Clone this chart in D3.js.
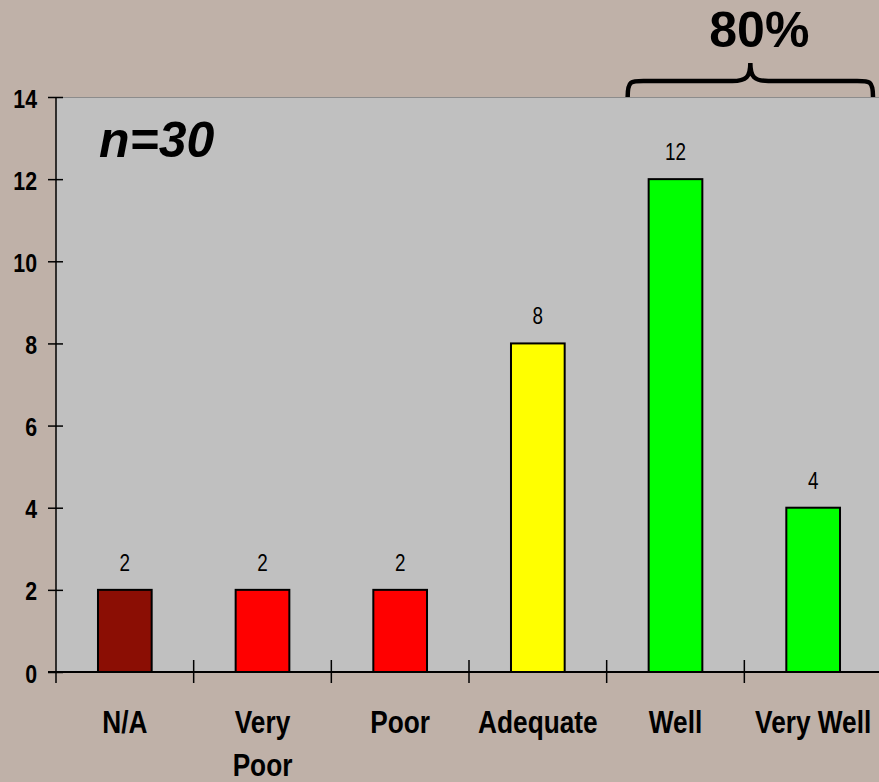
<!DOCTYPE html>
<html>
<head>
<meta charset="utf-8">
<script src="https://cdn.jsdelivr.net/npm/d3@7"></script>
<style>
  html, body { margin: 0; padding: 0; background: #bfb1a8; }
  svg { display: block; }
</style>
</head>
<body>
<script>
// Survey responses
const categories = ["N/A", "Very Poor", "Poor", "Adequate", "Well", "Very Well"];
const counts = [2, 2, 2, 8, 12, 4];
const barColors = ["#8b0e04", "#ff0000", "#ff0000", "#ffff00", "#00ff00", "#00ff00"];
const yTicks = [0, 2, 4, 6, 8, 10, 12, 14];
const sampleLabel = "n=30";
const groupLabel = "80%";
const groupCats = ["Well", "Very Well"];

const W = 879, H = 782;
const FONT = "'Liberation Sans', Arial, sans-serif";
const NARROW = 0.82; // horizontal squeeze for the condensed axis lettering

const svg = d3.select("body").append("svg").attr("width", W).attr("height", H)
  .attr("font-family", FONT);

const plotL = 56, plotR = 882, plotT = 97, plotB = 672;

const x = d3.scaleBand().domain(categories).range([plotL, plotR])
  .paddingInner(0.61).paddingOuter(0.305);
const step = x.step();
const y = d3.scaleLinear().domain([0, 14]).range([plotB, plotT]);
const cx = d => x(d) + x.bandwidth() / 2;

// plot area
svg.append("rect").attr("x", plotL).attr("y", plotT).attr("width", W - plotL).attr("height", plotB - plotT)
  .attr("fill", "#c0c0c0");
svg.append("line").attr("x1", plotL).attr("x2", W).attr("y1", plotT + 0.5).attr("y2", plotT + 0.5)
  .attr("stroke", "#8c8c8c").attr("stroke-width", 1);

// bars
svg.selectAll("rect.bar").data(categories).join("rect").attr("class", "bar")
  .attr("x", d => x(d)).attr("width", x.bandwidth())
  .attr("y", (d, i) => y(counts[i])).attr("height", (d, i) => y(0) - y(counts[i]))
  .attr("fill", (d, i) => barColors[i]).attr("stroke", "#000").attr("stroke-width", 2);

// value labels
svg.selectAll("text.val").data(categories).join("text").attr("class", "val")
  .attr("transform", (d, i) => `translate(${cx(d)},${y(counts[i]) - 19}) scale(${NARROW},1)`)
  .attr("text-anchor", "middle").attr("font-size", 23).attr("fill", "#000")
  .text((d, i) => counts[i]);

// y axis
const yAxis = d3.axisLeft(y).tickValues(yTicks).tickSizeOuter(0).tickSizeInner(8);
const gy = svg.append("g").attr("transform", `translate(${plotL},0)`).call(yAxis)
  .attr("font-family", FONT);
gy.select(".domain").remove();
gy.selectAll(".tick line").attr("x2", -8).attr("x1", 7).attr("stroke", "#000").attr("stroke-width", 1.5);
gy.selectAll(".tick text")
  .attr("x", null).attr("dy", null)
  .attr("transform", `translate(-19,10) scale(${NARROW},1)`)
  .attr("font-size", 26).attr("font-weight", "bold").attr("fill", "#000");
svg.append("line").attr("x1", plotL).attr("x2", plotL).attr("y1", plotT).attr("y2", plotB + 11)
  .attr("stroke", "#000").attr("stroke-width", 1.5);

// x axis
svg.append("line").attr("x1", plotL - 8).attr("x2", W).attr("y1", plotB).attr("y2", plotB)
  .attr("stroke", "#000").attr("stroke-width", 2);
const bounds = d3.range(1, categories.length).map(i => plotL + step * i);
svg.selectAll("line.xt").data(bounds).join("line").attr("class", "xt")
  .attr("x1", d => d).attr("x2", d => d).attr("y1", plotB - 12).attr("y2", plotB + 11)
  .attr("stroke", "#000").attr("stroke-width", 1.5);

// category labels
const xl = svg.selectAll("text.cat").data(categories).join("text").attr("class", "cat")
  .attr("transform", d => `translate(${cx(d)},733) scale(${NARROW},1)`)
  .attr("text-anchor", "middle").attr("font-size", 32).attr("font-weight", "bold").attr("fill", "#000");
xl.each(function(d) {
  const t = d3.select(this);
  const lines = d === "Very Poor" ? ["Very", "Poor"] : [d];
  lines.forEach((s, i) => t.append("tspan").attr("x", 0).attr("dy", i ? 43 : 0).text(s));
});

// sample size
svg.append("text").attr("x", 99).attr("y", 157)
  .attr("font-size", 50).attr("font-weight", "bold").attr("font-style", "italic")
  .attr("fill", "#000").text(sampleLabel);

// brace over the top two categories
const bx0 = x(groupCats[0]) - (step - x.bandwidth()) / 2 + 21;
const bx1 = x(groupCats[1]) + x.bandwidth() + (step - x.bandwidth()) / 2 - 9;
const bcx = (bx0 + bx1) / 2;
const by0 = plotT, by1 = 81, by2 = 63, r = 22;
svg.append("path")
  .attr("d", `M${bx0},${by0} C${bx0},${by1 - 2} ${bx0 + 4},${by1} ${bx0 + r},${by1} L${bcx - 18},${by1} ` +
             `C${bcx - 4},${by1} ${bcx},${by1 - 4} ${bcx},${by2} ` +
             `C${bcx},${by1 - 4} ${bcx + 4},${by1} ${bcx + 18},${by1} L${bx1 - r},${by1} ` +
             `C${bx1 - 4},${by1} ${bx1},${by1 - 2} ${bx1},${by0}`)
  .attr("fill", "none").attr("stroke", "#000").attr("stroke-width", 4.5);
svg.append("text").attr("x", bcx + 9).attr("y", 47).attr("text-anchor", "middle")
  .attr("font-size", 50).attr("font-weight", "bold").attr("fill", "#000").text(groupLabel);
</script>
</body>
</html>
